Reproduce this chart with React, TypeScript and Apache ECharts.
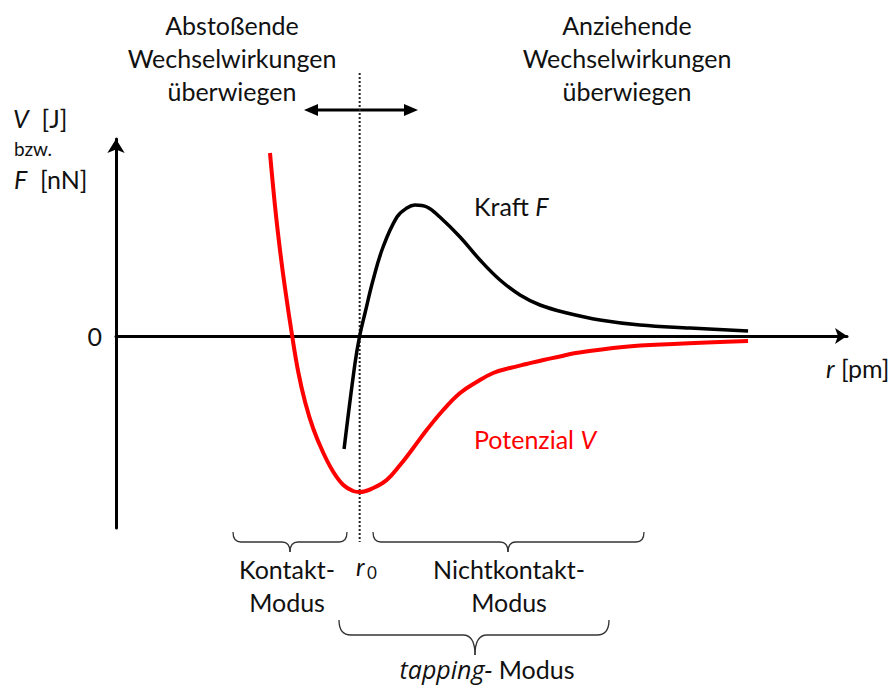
import React, { useEffect, useRef } from "react";
import * as echarts from "echarts";

// Abstand r in pm, Gleichgewichtsabstand r0
const R0 = 100;

// Kraft F (schwarz)
const rForce = [93.6, 98.1, 100, 102.2, 105.5, 109.6, 115.3, 119.4, 122.7, 127.6, 132.9, 141.2, 149.4, 157.6, 165.8, 174.0, 185.1, 198.6, 215.0, 235.6, 259.4];
const force = [-1.13, -0.27, 0, 0.23, 0.56, 0.89, 1.19, 1.28, 1.31, 1.29, 1.19, 0.99, 0.76, 0.56, 0.41, 0.31, 0.23, 0.16, 0.11, 0.08, 0.05];

// Potenzial V (rot)
const rPot = [63.2, 65.3, 67.3, 69.3, 72.3, 74.8, 77.6, 81.0, 85.1, 89.2, 93.3, 97.3, 100, 105.6, 111.1, 116.6, 122.0, 127.5, 134.3, 141.2, 148.0, 154.8, 161.7, 168.5, 175.4, 182.2, 187.5, 208.1, 228.6, 259.4];
const potential = [1.83, 1.29, 0.86, 0.49, 0, -0.36, -0.66, -0.93, -1.17, -1.36, -1.49, -1.55, -1.56, -1.52, -1.44, -1.29, -1.12, -0.94, -0.74, -0.57, -0.46, -0.37, -0.32, -0.28, -0.24, -0.205, -0.175, -0.11, -0.08, -0.05];

const yTicks = [0];

const FONT = "Lato";
const FS = 25;

function brace(x1: number, x2: number, cx: number, yTop: number, yMid: number, yBot: number, rad: number) {
  const style = { stroke: "#333", lineWidth: 1.3, fill: null as any };
  return [
    { type: "bezierCurve", shape: { x1, y1: yTop, x2: x1 + rad, y2: yMid, cpx1: x1, cpy1: yMid }, style },
    { type: "line", shape: { x1: x1 + rad, y1: yMid, x2: cx - rad, y2: yMid }, style },
    { type: "bezierCurve", shape: { x1: cx - rad, y1: yMid, x2: cx, y2: yBot, cpx1: cx, cpy1: yMid }, style },
    { type: "bezierCurve", shape: { x1: cx + rad, y1: yMid, x2: cx, y2: yBot, cpx1: cx, cpy1: yMid }, style },
    { type: "line", shape: { x1: cx + rad, y1: yMid, x2: x2 - rad, y2: yMid }, style },
    { type: "bezierCurve", shape: { x1: x2, y1: yTop, x2: x2 - rad, y2: yMid, cpx1: x2, cpy1: yMid }, style },
  ];
}

function label(text: string, x: number, y: number, opts: any = {}) {
  return {
    type: "text",
    x,
    y,
    style: {
      text,
      fontFamily: FONT,
      fontSize: FS,
      fill: "#111",
      align: "center",
      verticalAlign: "middle",
      lineHeight: 33,
      ...opts,
    },
  };
}

function richLabel(text: string, x: number, y: number, color: string, align: string, italicFont = FONT) {
  return {
    type: "text",
    x,
    y,
    style: {
      text,
      fontFamily: FONT,
      fontSize: FS,
      fill: color,
      align,
      verticalAlign: "middle",
      lineHeight: 26,
      rich: { i: { fontFamily: italicFont, fontSize: FS, fontStyle: "italic", fill: color, lineHeight: 26 } },
    },
  };
}

export default function App() {
  const ref = useRef<HTMLDivElement>(null);

  useEffect(() => {
    if (!ref.current) return;
    const chart = echarts.init(ref.current, undefined, { renderer: "svg" });

    const option: any = {
      animation: false,
      backgroundColor: "#fff",
      grid: { left: 116, right: 49, top: 139, bottom: 158, containLabel: false },
      xAxis: {
        type: "value",
        min: 0,
        max: 300,
        axisLine: { onZero: true, lineStyle: { color: "#000", width: 3 }, symbol: ["none", "arrow"], symbolSize: [12, 12] },
        axisTick: { show: false },
        axisLabel: { show: false },
        splitLine: { show: false },
      },
      yAxis: {
        type: "value",
        min: -1.92,
        max: 1.97,
        axisLine: { show: true, lineStyle: { color: "#000", width: 3 }, symbol: ["none", "arrow"], symbolSize: [13, 14] },
        axisTick: { show: false },
        axisLabel: { customValues: yTicks, fontFamily: FONT, fontSize: FS, color: "#111", margin: 14 },
        splitLine: { show: false },
      },
      series: [
        {
          name: "r0",
          type: "line",
          data: [[R0, 2.63], [R0, -2.06]],
          clip: false,
          symbol: "none",
          lineStyle: { color: "#222", width: 2, type: [2, 2] },
          z: 1,
        },
        {
          name: "Potenzial V",
          type: "line",
          data: rPot.map((r, i) => [r, potential[i]]),
          smooth: 0.4,
          symbol: "none",
          lineStyle: { color: "#ff0000", width: 4 },
          z: 3,
        },
        {
          name: "Kraft F",
          type: "line",
          data: rForce.map((r, i) => [r, force[i]]),
          smooth: 0.4,
          symbol: "none",
          lineStyle: { color: "#000", width: 3.5 },
          z: 3,
        },
      ],
      graphic: [
        label("Abstoßende\nWechselwirkungen\nüberwiegen", 232, 58),
        label("Anziehende\nWechselwirkungen\nüberwiegen", 627, 58),
        // Doppelpfeil
        { type: "line", shape: { x1: 314, y1: 110, x2: 408, y2: 110 }, style: { stroke: "#000", lineWidth: 3 } },
        { type: "polygon", shape: { points: [[304, 110], [318, 104], [318, 116]] }, style: { fill: "#000" } },
        { type: "polygon", shape: { points: [[418, 110], [404, 104], [404, 116]] }, style: { fill: "#000" } },
        // Achsenbeschriftungen
        richLabel("{i|V}  [J]", 13, 118, "#111", "left"),
        label("bzw.", 14, 148, { align: "left", fontSize: 19 }),
        richLabel("{i|F}  [nN]", 14, 179, "#111", "left"),
        richLabel("{i|r} [pm]", 826, 368, "#111", "left"),
        richLabel("Kraft {i|F}", 474, 206, "#111", "left"),
        richLabel("Potenzial {i|V}", 474, 439, "#ff0000", "left"),
        // Klammern und Betriebsmodi
        ...brace(233, 347, 290, 532, 542, 552, 8),
        ...brace(373, 644, 508, 532, 542, 552, 8),
        ...brace(339, 609, 475, 620, 635, 655, 12),
        label("Kontakt-\nModus", 287, 585),
        label("r", 356, 566, { align: "left", fontStyle: "italic" }),
        label("0", 367, 572, { align: "left", fontSize: 17 }),
        label("Nichtkontakt-\nModus", 509, 585),
        richLabel("{i|tapping-} Modus", 487, 669, "#111", "center", "Open Sans"),
      ],
    };

    chart.setOption(option);
    return () => chart.dispose();
  }, []);

  return (
    <div
      ref={ref}
      style={{ position: "fixed", left: 0, top: 0, width: 896, height: 686, background: "#fff" }}
    />
  );
}
